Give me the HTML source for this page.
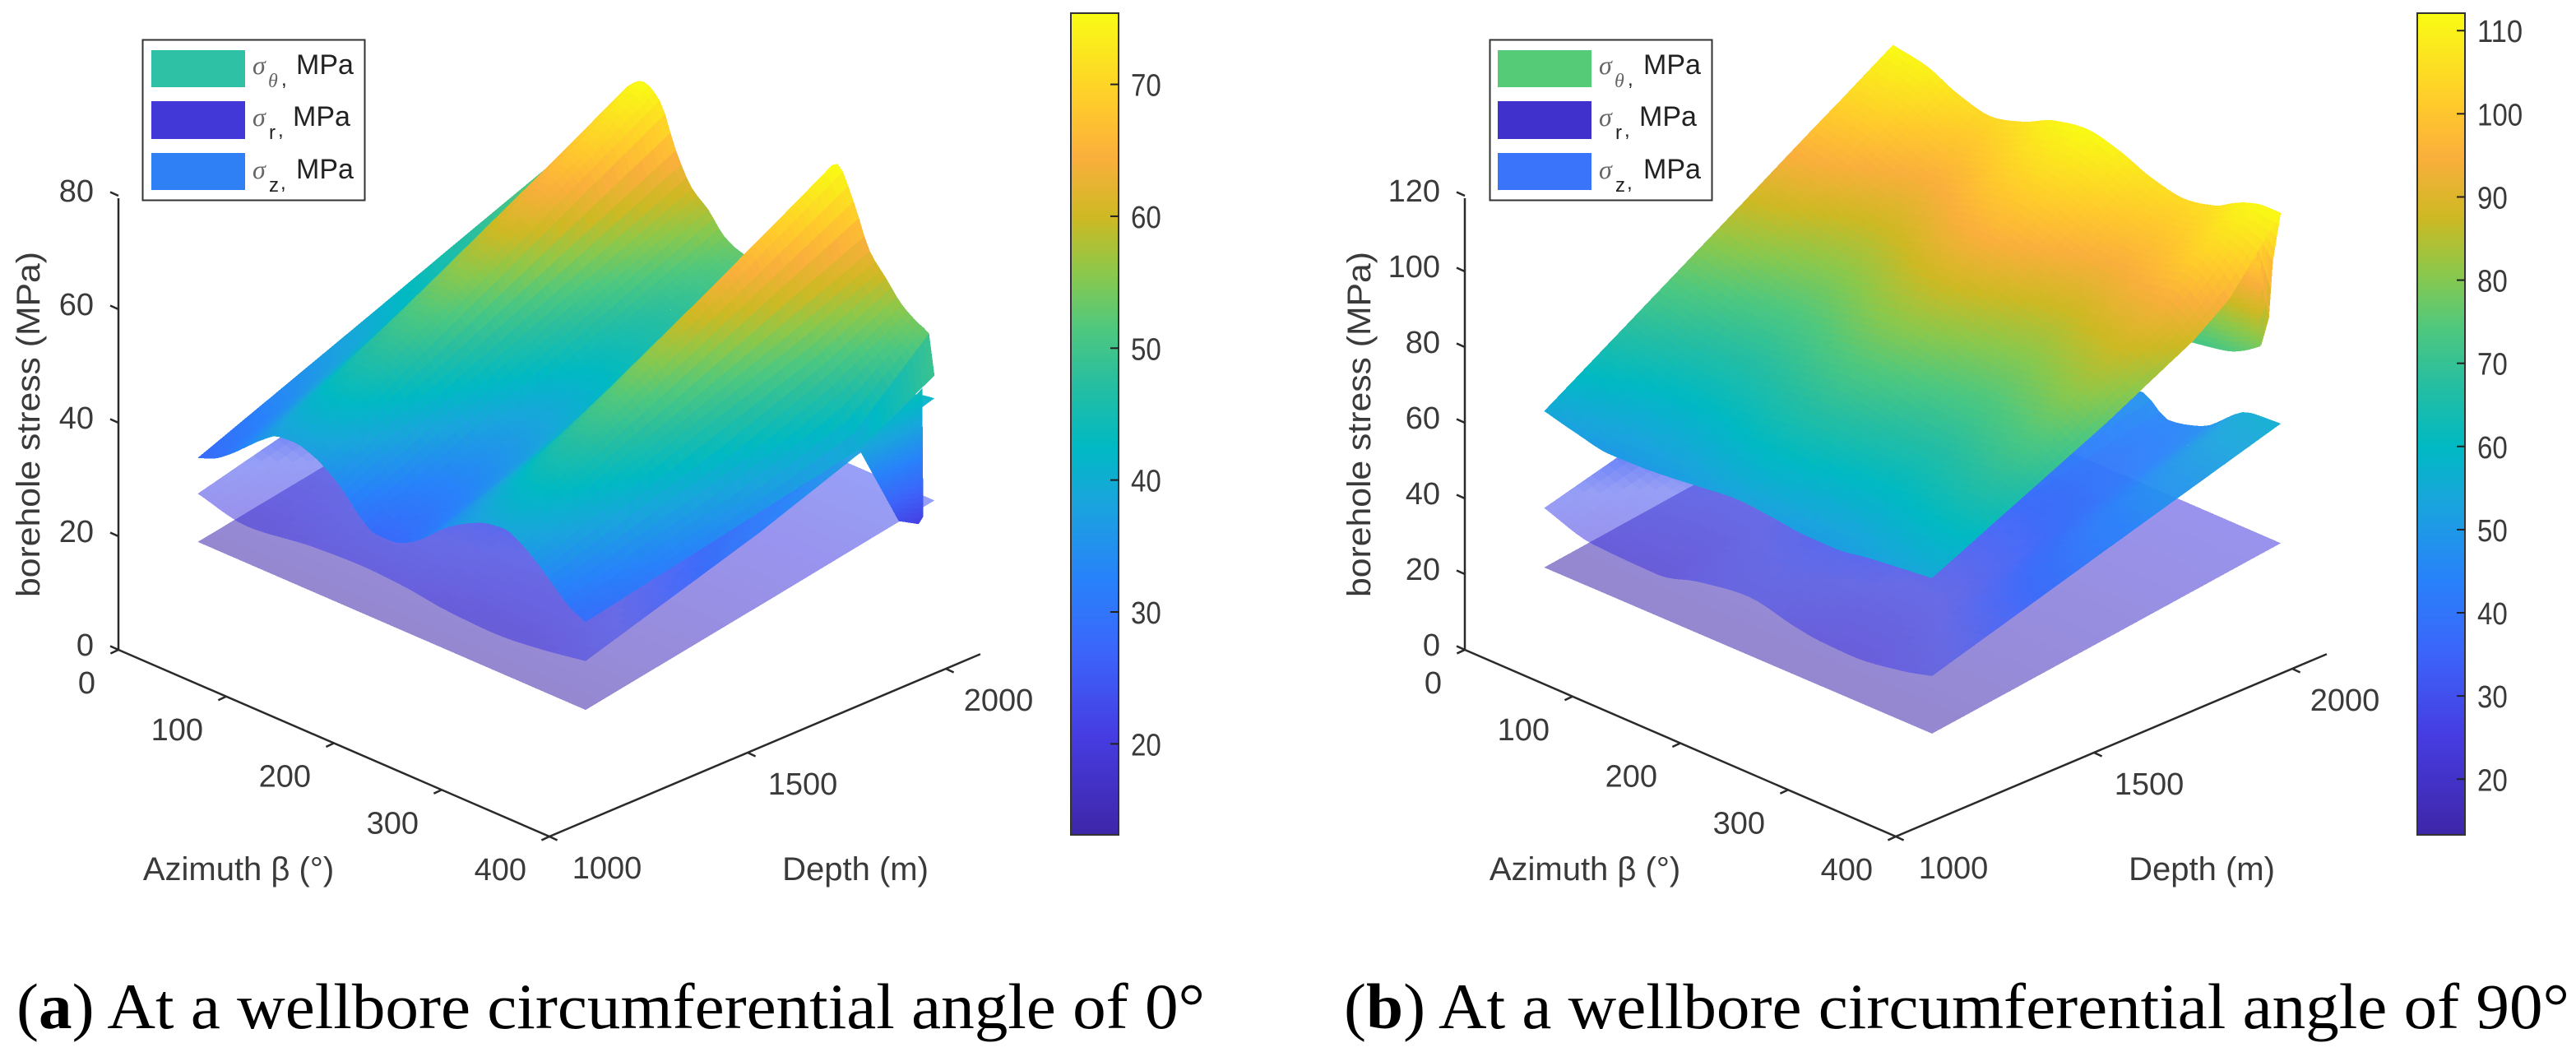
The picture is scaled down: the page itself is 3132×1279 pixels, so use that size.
<!DOCTYPE html>
<html lang="en">
<head>
<meta charset="utf-8">
<title>Borehole stress surfaces</title>
<style>
  html,body{margin:0;padding:0;background:#fff;}
  svg{display:block;}
  .sans{font-family:"Liberation Sans",Arial,sans-serif;fill:#3a3a3a;}
  .tick{font-size:38px;}
  .axis-title{font-size:40px;}
  .cap{font-family:"Liberation Serif","Times New Roman",serif;font-size:78px;fill:#000;}
  .sig{font-family:"Liberation Serif",serif;font-style:italic;font-size:32px;fill:#666;}
  .leg{font-family:"Liberation Sans",sans-serif;font-size:34px;fill:#222;}
  .sub{font-family:"Liberation Sans",sans-serif;font-size:24px;fill:#222;}
</style>
</head>
<body>
<svg id="fig" xmlns="http://www.w3.org/2000/svg" width="3132" height="1279" viewBox="0 0 3132 1279">
  <rect width="3132" height="1279" fill="#fff"/>
  <defs>
    <linearGradient id="cbarGradient" x1="0" y1="1" x2="0" y2="0"></linearGradient>
  </defs>
  <g id="panelA"></g>
  <g id="panelB"></g>

  <g>
    <rect x="173.5" y="48.5" width="270" height="195" fill="#fff" stroke="#333" stroke-width="2"/>
    <rect x="184" y="61" width="114" height="45" fill="#2EC1A5"/>
    <rect x="184" y="123" width="114" height="46" fill="#4238D8"/>
    <rect x="184" y="186" width="114" height="45" fill="#2F80F5"/>
    <text x="307" y="90" class="sig">σ</text><text x="326" y="106" class="sig" style="font-size:24px">θ</text><text x="342" y="104" class="sub">,</text><text x="360" y="90" class="leg">MPa</text>
    <text x="307" y="153" class="sig">σ</text><text x="327" y="169" class="sub">r</text><text x="338" y="166" class="sub">,</text><text x="356" y="153" class="leg">MPa</text>
    <text x="307" y="217" class="sig">σ</text><text x="327" y="233" class="sub">z</text><text x="341" y="230" class="sub">,</text><text x="360" y="217" class="leg">MPa</text>
  </g>

  <g>
    <rect x="1811.5" y="48.5" width="270" height="195" fill="#fff" stroke="#333" stroke-width="2"/>
    <rect x="1821" y="61" width="114" height="45" fill="#55CB78"/>
    <rect x="1821" y="123" width="114" height="46" fill="#4030CC"/>
    <rect x="1821" y="186" width="114" height="45" fill="#3974FB"/>
    <text x="1944" y="90" class="sig">σ</text><text x="1963" y="106" class="sig" style="font-size:24px">θ</text><text x="1979" y="104" class="sub">,</text><text x="1998" y="90" class="leg">MPa</text>
    <text x="1944" y="153" class="sig">σ</text><text x="1964" y="169" class="sub">r</text><text x="1975" y="166" class="sub">,</text><text x="1993" y="153" class="leg">MPa</text>
    <text x="1944" y="217" class="sig">σ</text><text x="1964" y="233" class="sub">z</text><text x="1978" y="230" class="sub">,</text><text x="1998" y="217" class="leg">MPa</text>
  </g>

  <text class="cap" x="20" y="1250" textLength="1445" lengthAdjust="spacingAndGlyphs">(<tspan font-weight="bold">a</tspan>) At a wellbore circumferential angle of 0°</text>
  <text class="cap" x="1634" y="1250" textLength="1490" lengthAdjust="spacingAndGlyphs">(<tspan font-weight="bold">b</tspan>) At a wellbore circumferential angle of 90°</text>
</svg>

<script>
/* ---------- shared axis values ---------- */
const betaTicks = [0, 100, 200, 300, 400];
const depthTicks = [1000, 1500, 2000];
const zTicksA = [0, 20, 40, 60, 80];
const zTicksB = [0, 20, 40, 60, 80, 100, 120];
const cbarTicksA = [20, 30, 40, 50, 60, 70];
const cbarTicksB = [20, 30, 40, 50, 60, 70, 80, 90, 100, 110];
const colorRangeA = [13.1, 75.4];
const colorRangeB = [13.3, 112.1];

/* ---------- panel (a) surface values, MPa ---------- */
const thetaBetaA = [0,15,30,45,60,75,90,105,120,135,150,165,180,195,210,225,240,255,270,285,300,315,330,345,355,360];
const thetaDepthA = [1200, 1640, 1890, 2080];
const thetaA1200 = [27.9,29,31,33.5,36,37.8,38,37.2,35.6,33.2,30,28,28,29,31,33.7,35.8,37.4,38.5,38.8,37.5,35.3,32.6,30,29,28.6];
const thetaA1640 = [40.4,41.2,43.5,46.8,51.5,55.6,56.8,55.3,50.8,46.8,44,41.2,40.5,40.8,42.2,45.3,49.4,54.7,57.2,54.6,50.2,47,42,38,36,35];
const thetaA1890 = [47.6,48.2,50.6,54.3,60.3,65.8,67.5,65.7,59.4,54.6,52,48.8,47.6,47.4,48.6,52,57.1,64.5,67.8,63.6,57.5,53,49,45,41,38.6];
const thetaA2080 = [53,53.5,56,60,67,73.5,75.6,73.5,66,60.5,58,54.5,53,52.5,53.5,57,63,72,75.9,70.5,63,59.5,56,54,53,46];

/* wall hanging from the azimuth-360 edge of sigma-theta near the bottom of the well */
const wallBetaA = [359, 360];
const wallDepthA = [1890, 1990, 2040, 2052];
const wallA1890 = [38.6, 38.6];
const wallA1990 = [42, 23];
const wallA2040 = [44, 21];
const wallA2052 = [44.5, 22];

const zBetaA = [0,45,107,152,191,230,275,320,330,345,360];
const zDepthA = [1200, 1640, 1880, 2080];
const zA1200 = [21.6,19.6,21,21.4,21,20,19.6,20.4,20.7,21.2,21.7];
const zA1640 = [29.6,27.6,29,29.4,29,28,27.6,28.4,29.2,30.4,31.4];
const zA1880 = [34,32,33.4,33.8,33.4,32.4,32,33,34.2,36,37.6];
const zA2080 = [37.6,35.6,37,37.4,37,36,35.6,37.5,39.5,41.5,42];

const rBetaA = [0, 360];
const rDepthA = [1200, 1640, 2080];
const rA1200 = [13.1, 13.1];
const rA1640 = [18.5, 18.5];
const rA2080 = [24, 24];

/* ---------- panel (b) surface values, MPa ---------- */
const thetaBetaB = [0,30,60,90,120,150,180,210,240,270,300,315,330,345,360];
const thetaDepthB = [1200, 1640, 1860, 1950, 2080];
const thetaB1200 = [54.2,52,50.3,50.5,51.2,52.2,53,52.3,51.3,51.2,52.5,53,53.5,54,54.5];
const thetaB1640 = [83,81,78.4,77.4,78.8,81.3,82.5,81,78.9,78,79.5,80.5,81.5,80,76];
const thetaB1860 = [97.6,95.8,92.5,90.9,92.7,95.9,97.3,95.6,92.7,91.2,93,93,93.5,91,88];
const thetaB1950 = [103.4,101.8,98.2,96.3,98.3,101.9,103.3,101.5,98.3,96.8,98.5,100.7,102.5,100,95];
const thetaB2080 = [112,110.4,106.5,104.3,106.5,110.5,112,110,106.5,104.7,106.5,109,111,112,112];

/* low curtain hanging behind the far right of the sigma-theta sheet */
const flapBetaB = [294,330,345,360];
const flapDepthB = [2029, 2030];
const flapLowB = [72,74,76,79];
const flapHighB = [100,100,101,101];
const flapSideBetaB = [345,360];
const flapSideDepthB = [2030, 2050, 2060, 2080];
const flapSide2030B = [101,79];
const flapSide2050B = [103,85.5];
const flapSide2060B = [106,100];
const flapSide2080B = [112,112];

const zBetaB = [0,45,106,144,190,232,255,286,332,360];
const zDepthB = [1200, 1640, 2080];
const zB1200 = [28.6,24.6,24,26.8,28.6,26,25,24.7,26.5,28.6];
const zB1640 = [41,36.8,34.5,35.4,36.8,37.4,35,35.6,41,42.5];
const zB2080 = [54,49,45,44,45,48.8,44.4,46.5,55.7,56.3];

const rBetaB = [0, 360];
const rDepthB = [1200, 1640, 2080];
const rB1200 = [12.9, 13.4];
const rB1640 = [18.8, 19];
const rB2080 = [24.7, 24.7];

/* ---------- colour map (position, r, g, b) ---------- */
const cmapPos = [0,.12,.22,.312,.405,.472,.55,.618,.684,.75,.824,.884,1];
const cmapR = [62,70,60,40,25,0,40,80,140,205,250,255,249];
const cmapG = [38,60,100,130,165,185,190,200,200,185,175,200,251];
const cmapB = [168,225,250,250,220,195,160,125,75,35,60,45,20];

function cmapRGB(t){
  t = Math.max(0, Math.min(1, t));
  let i = 0;
  while (i < cmapPos.length - 2 && t > cmapPos[i+1]) i++;
  const f = (t - cmapPos[i]) / (cmapPos[i+1] - cmapPos[i]);
  const r = cmapR[i] + f*(cmapR[i+1]-cmapR[i]);
  const g = cmapG[i] + f*(cmapG[i+1]-cmapG[i]);
  const b = cmapB[i] + f*(cmapB[i+1]-cmapB[i]);
  return 'rgb(' + Math.round(r) + ',' + Math.round(g) + ',' + Math.round(b) + ')';
}

const NS = 'http://www.w3.org/2000/svg';
function mk(tag, parent, attrs){
  const el = document.createElementNS(NS, tag);
  for (const k in attrs) el.setAttribute(k, attrs[k]);
  parent.appendChild(el);
  return el;
}

/* colour bar gradient stops */
const grad = document.getElementById('cbarGradient');
cmapPos.forEach(function(p){
  mk('stop', grad, {offset: p, 'stop-color': cmapRGB(p)});
});

/* monotone cubic evaluation along azimuth */
function splineRow(xs, ys){
  const n = xs.length, s = [], m = [];
  for (let i = 0; i < n-1; i++) s.push((ys[i+1]-ys[i])/(xs[i+1]-xs[i]));
  for (let i = 0; i < n; i++){
    if (i === 0) m.push(s[0]);
    else if (i === n-1) m.push(s[n-2]);
    else if (s[i-1]*s[i] <= 0) m.push(0);
    else m.push(2*s[i-1]*s[i]/(s[i-1]+s[i]));
  }
  return function(x){
    let i = 0;
    while (i < n-2 && x > xs[i+1]) i++;
    const h = xs[i+1]-xs[i], u = (x-xs[i])/h;
    const a = 2*u*u*u-3*u*u+1, b = u*u*u-2*u*u+u, c = -2*u*u*u+3*u*u, d = u*u*u-u*u;
    return a*ys[i]+b*h*m[i]+c*ys[i+1]+d*h*m[i+1];
  };
}

function drawSurface(group, p, betas, depths, rows, stepB, stepD, alphaFn, facetName){
  const fb = [];
  for (let i = 0; i < betas.length-1; i++){
    const c = Math.max(1, Math.round((betas[i+1]-betas[i])/stepB));
    for (let k = 0; k < c; k++) fb.push(betas[i] + (betas[i+1]-betas[i])*k/c);
  }
  fb.push(betas[betas.length-1]);
  const splined = rows.map(function(r){
    const f = splineRow(betas, r);
    return fb.map(f);
  });
  const fd = [], fz = [];
  for (let i = 0; i < depths.length-1; i++){
    const c = Math.max(1, Math.round((depths[i+1]-depths[i])/stepD));
    for (let k = 0; k < c; k++){
      const f = k/c;
      fd.push(depths[i] + (depths[i+1]-depths[i])*f);
      fz.push(splined[i].map(function(v, j){ return v + (splined[i+1][j]-v)*f; }));
    }
  }
  fd.push(depths[depths.length-1]);
  fz.push(splined[splined.length-1]);
  /* painter's order: far depth first, small azimuth first */
  for (let r = fd.length-2; r >= 0; r--){
    for (let c = 0; c < fb.length-1; c++){
      const q = [[fb[c],fd[r],fz[r][c]],[fb[c+1],fd[r],fz[r][c+1]],[fb[c+1],fd[r+1],fz[r+1][c+1]],[fb[c],fd[r+1],fz[r+1][c]]];
      const zm = (q[0][2]+q[1][2]+q[2][2]+q[3][2])/4;
      const t = (zm-p.cRange[0])/(p.cRange[1]-p.cRange[0]);
      const pts = q.map(function(v){ return p.sx(v[0],v[1]).toFixed(1)+','+p.sy(v[0],v[1],v[2]).toFixed(1); }).join(' ');
      const poly = mk('polygon', group, {points: pts, fill: cmapRGB(t)});
      const al = alphaFn(t);
      if (al < 1) poly.setAttribute('fill-opacity', al.toFixed(3));
      
      
    }
  }
}

function drawPanel(p){
  const root = p.root;
  /* surfaces */
  const gR = mk('g', root, {'shape-rendering':'crispEdges'});
  
  
  drawSurface(gR, p, p.rBeta, p.rDepth, p.rRows, 360, 40, function(){ return 0.55; }, 'sigma-r-facet');

  const gZ = mk('g', root, {'shape-rendering':'crispEdges'});
  
  
  drawSurface(gZ, p, p.zBeta, p.zDepth, p.zRows, 8, 20, function(t){
    if (t <= .17) return .55;
    if (t >= .24) return .95;
    return .55 + (t-.17)/.07*.4;
  }, 'sigma-z-facet');

  const gT = mk('g', root, {'shape-rendering':'crispEdges'});
  
  
  if (p.flap){
    drawSurface(gT, p, flapSideBetaB, flapSideDepthB, [flapSide2030B, flapSide2050B, flapSide2060B, flapSide2080B], 3, 5, function(){ return 1; }, 'sigma-theta-flap-side-facet');
    drawSurface(gT, p, flapBetaB, flapDepthB, [flapLowB, flapHighB], 5, 0.05, function(){ return 1; }, 'sigma-theta-flap-facet');
  }
  drawSurface(gT, p, p.tBeta, p.tDepth, p.tRows, 5, 15, function(){ return 1; }, 'sigma-theta-facet');
  if (p.wall){
    drawSurface(gT, p, wallBetaA, wallDepthA, [wallA1890, wallA1990, wallA2040, wallA2052], 0.04, 6, function(){ return 1; }, 'sigma-theta-wall-facet');
  }

  /* axes */
  const ax = mk('g', root, {stroke:'#2a2a2a','stroke-width':2.5,fill:'none'});
  
  
  const zTop = p.zTicks[p.zTicks.length-1];
  const lineZ = mk('line', ax, {x1:p.sx(0,1000),y1:p.sy(0,1000,0),x2:p.sx(0,1000),y2:p.sy(0,1000,zTop)+3});
  
  
  const lineB = mk('line', ax, {x1:p.sx(0,1000),y1:p.sy(0,1000,0),x2:p.sx(400,1000),y2:p.sy(400,1000,0)});
  
  
  const lineD = mk('line', ax, {x1:p.sx(400,1000),y1:p.sy(400,1000,0),x2:p.sx(400,2087),y2:p.sy(400,2087,0)});
  
  

  p.zTicks.forEach(function(v){
    const x = p.sx(0,1000), y = p.sy(0,1000,v);
    const t = mk('line', ax, {x1:x,y1:y,x2:x-10,y2:y-4.5});
    
    
    const l = mk('text', root, {x:x-30,y:y+7,'text-anchor':'end','class':'sans tick'});
    l.textContent = v;
    
    
  });
  betaTicks.forEach(function(v){
    const x = p.sx(v,1000), y = p.sy(v,1000,0);
    const t = mk('line', ax, {x1:x,y1:y,x2:x-9.6,y2:y+4.5});
    
    
    const l = mk('text', root, {x:x-28,y:y+53,'text-anchor':'end','class':'sans tick'});
    l.textContent = v;
    
    
  });
  depthTicks.forEach(function(v){
    const x = p.sx(400,v), y = p.sy(400,v,0);
    const t = mk('line', ax, {x1:x,y1:y,x2:x+9.6,y2:y+4.5});
    
    
    const l = mk('text', root, {x:x+70-(v-1000)*0.006,y:y+51,'text-anchor':'middle','class':'sans tick'});
    l.textContent = v;
    
    
  });

  /* axis titles */
  const ty = mk('text', root, {'class':'sans axis-title','text-anchor':'middle',transform:'translate('+p.yTitleX+',516) rotate(-90)',textLength:420,lengthAdjust:'spacingAndGlyphs'});
  ty.textContent = 'borehole stress (MPa)';
  
  
  const tb = mk('text', root, {'class':'sans axis-title','text-anchor':'middle',x:290+p.ox,y:1070});
  tb.textContent = 'Azimuth β (°)';
  
  
  const td = mk('text', root, {'class':'sans axis-title','text-anchor':'middle',x:1040+p.ox,y:1070});
  td.textContent = 'Depth (m)';
  
  

  /* colour bar */
  const cbG = mk('g', root, {});
  
  
  const cx = p.cbarX, cw = 58, cTop = 16, cBot = 1015;
  const bar = mk('rect', cbG, {x:cx,y:cTop,width:cw,height:cBot-cTop,fill:'url(#cbarGradient)',stroke:'#333','stroke-width':2});
  
  
  p.cTicks.forEach(function(v){
    const y = cBot - (v-p.cRange[0])/(p.cRange[1]-p.cRange[0])*(cBot-cTop);
    const t = mk('line', cbG, {x1:cx+cw-10,x2:cx+cw,y1:y,y2:y,stroke:'#222','stroke-width':2});
    
    
    const s = String(v);
    const l = mk('text', cbG, {x:cx+cw+15,y:y+14,'class':'sans tick',textLength:s.length*18.4,lengthAdjust:'spacingAndGlyphs'});
    l.textContent = s;
    
    
  });
}

function makeProjection(ox, zTop){
  const k = 552/zTop;
  return {
    ox: ox,
    sx: function(b,d){ return 144 + ox + 1.31*b + 0.482*(d-1000); },
    sy: function(b,d,z){ return 790 + 0.5675*b - 0.204*(d-1000) - k*z; }
  };
}

const pa = makeProjection(0, 80);
pa.root = document.getElementById('panelA');
pa.zTicks = zTicksA; pa.cTicks = cbarTicksA; pa.cRange = colorRangeA;
pa.yTitleX = 48; pa.cbarX = 1302; pa.wall = true;
pa.tBeta = thetaBetaA; pa.tDepth = thetaDepthA; pa.tRows = [thetaA1200, thetaA1640, thetaA1890, thetaA2080];
pa.zBeta = zBetaA; pa.zDepth = zDepthA; pa.zRows = [zA1200, zA1640, zA1880, zA2080];
pa.rBeta = rBetaA; pa.rDepth = rDepthA; pa.rRows = [rA1200, rA1640, rA2080];
drawPanel(pa);

const pb = makeProjection(1637, 120);
pb.root = document.getElementById('panelB');
pb.zTicks = zTicksB; pb.cTicks = cbarTicksB; pb.cRange = colorRangeB;
pb.yTitleX = 1666; pb.cbarX = 2939; pb.flap = true;
pb.tBeta = thetaBetaB; pb.tDepth = thetaDepthB; pb.tRows = [thetaB1200, thetaB1640, thetaB1860, thetaB1950, thetaB2080];
pb.zBeta = zBetaB; pb.zDepth = zDepthB; pb.zRows = [zB1200, zB1640, zB2080];
pb.rBeta = rBetaB; pb.rDepth = rDepthB; pb.rRows = [rB1200, rB1640, rB2080];
drawPanel(pb);
</script>
</body>
</html>
